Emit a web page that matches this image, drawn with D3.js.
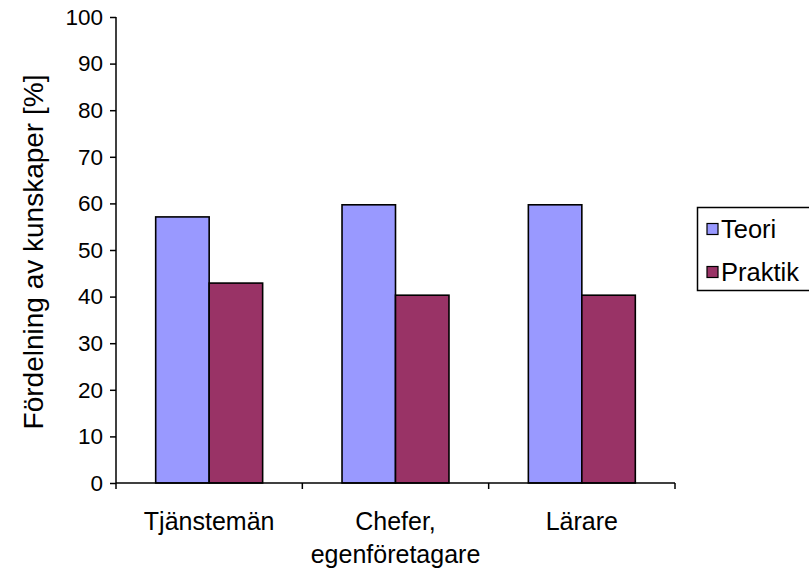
<!DOCTYPE html>
<html>
<head>
<meta charset="utf-8">
<script src="https://cdn.jsdelivr.net/npm/d3@7"></script>
<style>
  html, body { margin: 0; padding: 0; background: #fff; }
  svg { display: block; font-family: Arial, "Liberation Sans", sans-serif; }
</style>
</head>
<body>
<svg id="chart" width="809" height="574"></svg>
<script>
// Knowledge split per occupational group (percent)
const categories = [["Tjänstemän"], ["Chefer,", "egenföretagare"], ["Lärare"]];
const categoryKeys = ["Tjänstemän", "Chefer, egenföretagare", "Lärare"];
const seriesNames = ["Teori", "Praktik"];
const teori = [57.1, 59.7, 59.7];
const praktik = [42.9, 40.3, 40.3];
const yTicks = [0, 10, 20, 30, 40, 50, 60, 70, 80, 90, 100];
const colors = ["#9999FF", "#993366"];

const svg = d3.select("#chart");
const plotLeft = 116, plotRight = 675, plotTop = 17, plotBottom = 483;
const fontFamily = "Arial, 'Liberation Sans', sans-serif";

const x = d3.scaleBand().domain(categoryKeys).range([plotLeft, plotRight])
  .paddingInner(0.426).paddingOuter(0.213);
const xs = d3.scaleBand().domain(seriesNames).range([0, x.bandwidth()]);
const y = d3.scaleLinear().domain([0, 100]).range([plotBottom, plotTop]);

const values = [teori, praktik];

// Bars
const g = svg.append("g");
categoryKeys.forEach((c, i) => {
  seriesNames.forEach((s, j) => {
    g.append("rect")
      .attr("x", x(c) + xs(s))
      .attr("y", y(values[j][i]))
      .attr("width", xs.bandwidth())
      .attr("height", y(0) - y(values[j][i]))
      .attr("fill", colors[j])
      .attr("stroke", "#000")
      .attr("stroke-width", 1.6);
  });
});

// Y axis
const yAxis = d3.axisLeft(y).tickValues(yTicks).tickSize(6).tickPadding(7);
const ya = svg.append("g").attr("transform", `translate(${plotLeft},0)`).call(yAxis);
ya.attr("font-family", fontFamily);
ya.select(".domain").attr("stroke", "#000").attr("stroke-width", 1.5).attr("d", `M0,${plotTop}V${plotBottom}`);
ya.selectAll(".tick line").attr("stroke", "#000").attr("stroke-width", 1.5);
ya.selectAll(".tick text").attr("font-size", 22.5).attr("fill", "#000");

// X axis line and category dividers
const xa = svg.append("g");
xa.append("line").attr("x1", plotLeft).attr("x2", plotRight).attr("y1", plotBottom).attr("y2", plotBottom)
  .attr("stroke", "#000").attr("stroke-width", 1.5);
const edges = categoryKeys.map(c => x(c) - x.step() * x.paddingInner() / 2);
edges.push(plotRight);
edges[0] = plotLeft;
edges.forEach(e => {
  xa.append("line").attr("x1", e).attr("x2", e).attr("y1", plotBottom).attr("y2", plotBottom + 6)
    .attr("stroke", "#000").attr("stroke-width", 1.5);
});

// Category labels
categoryKeys.forEach((c, i) => {
  const cx = x(c) + x.bandwidth() / 2;
  const t = svg.append("text")
    .attr("x", cx)
    .attr("y", 530)
    .attr("text-anchor", "middle")
    .attr("font-size", 25)
    .attr("fill", "#000");
  categories[i].forEach((line, k) => {
    t.append("tspan").attr("x", cx).attr("dy", k === 0 ? 0 : 33).text(line);
  });
});

// Y axis title
svg.append("text")
  .attr("transform", `translate(43,252) rotate(-90)`)
  .attr("text-anchor", "middle")
  .attr("font-size", 28)
  .attr("fill", "#000")
  .text("Fördelning av kunskaper [%]");

// Legend
const lg = svg.append("g");
lg.append("rect").attr("x", 697.5).attr("y", 207.5).attr("width", 120).attr("height", 83)
  .attr("fill", "#fff").attr("stroke", "#000").attr("stroke-width", 1.5);
seriesNames.forEach((s, j) => {
  const cy = 229 + j * 43;
  lg.append("rect").attr("x", 707).attr("y", cy - 5.5).attr("width", 11).attr("height", 11)
    .attr("fill", colors[j]).attr("stroke", "#000").attr("stroke-width", 1.2);
  lg.append("text").attr("x", 721).attr("y", cy + 9).attr("font-size", 25.5).attr("fill", "#000").text(s);
});
</script>
</body>
</html>
